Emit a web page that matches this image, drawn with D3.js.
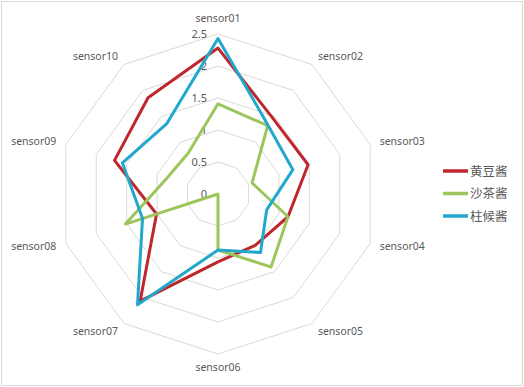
<!DOCTYPE html>
<html>
<head>
<meta charset="utf-8">
<script src="https://cdn.jsdelivr.net/npm/d3@7"></script>
<style>
  body { margin: 0; background: #fff; }
  text { font-family: "Noto Sans", "Noto Sans CJK SC", sans-serif; fill: #595959; }
</style>
</head>
<body>
<svg></svg>
<script>
const width = 524;
const height = 387;
const svg = d3.select("svg").attr("width", width).attr("height", height);

// data
const sensors = ["sensor01", "sensor02", "sensor03", "sensor04", "sensor05",
                 "sensor06", "sensor07", "sensor08", "sensor09", "sensor10"];
const ticks = [0, 0.5, 1, 1.5, 2, 2.5];
const seriesNames = ["黄豆酱", "沙茶酱", "柱候酱"];
const seriesColors = ["#c0262d", "#9cc65c", "#22a8cc"];
const huangdou = [2.28, 1.46, 1.48, 1.15, 0.99, 1.06, 2.07, 1.01, 1.70, 1.86];
const shacha   = [1.41, 1.32, 0.56, 1.15, 1.41, 0.875, 0, 1.52, 0.83, 0.79];
const zhuhou   = [2.43, 1.33, 1.23, 0.80, 1.13, 0.875, 2.14, 1.24, 1.57, 1.36];
const seriesValues = [huangdou, shacha, zhuhou];

// frame
svg.append("rect")
    .attr("x", 1.5).attr("y", 1.5)
    .attr("width", width - 3).attr("height", height - 3)
    .attr("fill", "none").attr("stroke", "#d9d9d9");

const cx = 218, cy = 194;
const r = d3.scaleLinear().domain([0, 2.5]).range([0, 160]);
const angle = d3.scaleLinear().domain([0, sensors.length]).range([0, 2 * Math.PI]);

function pt(i, v) {
    const a = angle(i);
    return [cx + Math.sin(a) * r(v), cy - Math.cos(a) * r(v)];
}

const g = svg.append("g");

// rings
g.selectAll("polygon.ring")
    .data(ticks.filter(t => t > 0))
    .enter()
    .append("polygon")
    .attr("class", "ring")
    .attr("points", t => sensors.map((s, i) => pt(i, t).join(",")).join(" "))
    .attr("fill", "none")
    .attr("stroke", "#d9d9d9")
    .attr("stroke-width", 1);

// tick labels
g.selectAll("text.tick")
    .data(ticks)
    .enter()
    .append("text")
    .attr("class", "tick")
    .attr("x", cx - 11)
    .attr("y", t => cy - r(t))
    .attr("dy", "0.35em")
    .attr("text-anchor", "end")
    .attr("font-size", 11)
    .text(t => t);

// axis labels
g.selectAll("text.axis")
    .data(sensors)
    .enter()
    .append("text")
    .attr("class", "axis")
    .attr("x", (s, i) => cx + Math.sin(angle(i)) * 170)
    .attr("y", (s, i) => cy - Math.cos(angle(i)) * 170)
    .attr("dy", (s, i) => i === 0 ? "-0.2em" : i === 5 ? "0.7em" : "0.35em")
    .attr("text-anchor", (s, i) => {
        const x = Math.sin(angle(i));
        return Math.abs(x) < 0.01 ? "middle" : x > 0 ? "start" : "end";
    })
    .attr("font-size", 10.5)
    .text(s => s);

// series lines
const line = d3.line().curve(d3.curveLinearClosed);
g.selectAll("path.series")
    .data(seriesValues)
    .enter()
    .append("path")
    .attr("class", "series")
    .attr("d", vals => line(vals.map((v, i) => pt(i, v))))
    .attr("fill", "none")
    .attr("stroke", (d, k) => seriesColors[k])
    .attr("stroke-width", 3)
    .attr("stroke-linejoin", "round");

// legend
const legend = svg.append("g").attr("transform", "translate(443,171)");
const items = legend.selectAll("g")
    .data(seriesNames)
    .enter()
    .append("g")
    .attr("transform", (d, k) => `translate(0,${k * 22.5})`);
items.append("line")
    .attr("x1", 0).attr("x2", 25)
    .attr("stroke", (d, k) => seriesColors[k])
    .attr("stroke-width", 3.5);
items.append("text")
    .attr("x", 27)
    .attr("dy", "0.36em")
    .attr("font-size", 12.5)
    .style("font-family", "'Noto Sans CJK SC', sans-serif")
    .text(d => d);
</script>
</body>
</html>
